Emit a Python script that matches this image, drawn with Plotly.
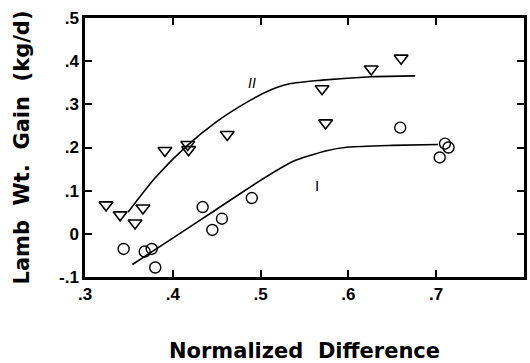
import plotly.graph_objects as go

# Data
tri_x = [0.324, 0.340, 0.357, 0.366, 0.391, 0.417, 0.418, 0.462, 0.570, 0.574, 0.626, 0.660]
tri_y = [0.067, 0.044, 0.025, 0.060, 0.193, 0.207, 0.195, 0.230, 0.336, 0.257, 0.382, 0.407]

circ_x = [0.344, 0.368, 0.376, 0.380, 0.434, 0.445, 0.456, 0.490, 0.659, 0.704, 0.710, 0.714]
circ_y = [-0.035, -0.041, -0.035, -0.078, 0.062, 0.009, 0.035, 0.083, 0.246, 0.177, 0.209, 0.200]

curve2_x = [0.349, 0.380, 0.415, 0.450, 0.487, 0.510, 0.532, 0.570, 0.626, 0.676]
curve2_y = [0.050, 0.130, 0.202, 0.260, 0.308, 0.332, 0.347, 0.356, 0.364, 0.366]

curve1_x = [0.354, 0.400, 0.450, 0.500, 0.536, 0.574, 0.600, 0.650, 0.702]
curve1_y = [-0.071, -0.010, 0.057, 0.124, 0.167, 0.192, 0.201, 0.205, 0.207]

x_ticks = [0.3, 0.4, 0.5, 0.6, 0.7, 0.8]
x_ticktext = [".3", ".4", ".5", ".6", ".7", ".8"]
y_ticks = [-0.1, 0.0, 0.1, 0.2, 0.3, 0.4, 0.5]
y_ticktext = ["-.1", "0", ".1", ".2", ".3", ".4", ".5"]

FONT = "Liberation Sans"
TFONT = "DejaVu Sans"

fig = go.Figure()
fig.add_trace(go.Scatter(x=curve2_x, y=curve2_y, mode="lines",
                         line=dict(color="black", width=1.6, shape="spline", smoothing=0.8),
                         showlegend=False, hoverinfo="skip"))
fig.add_trace(go.Scatter(x=curve1_x, y=curve1_y, mode="lines",
                         line=dict(color="black", width=1.6, shape="spline", smoothing=0.6),
                         showlegend=False, hoverinfo="skip"))
fig.add_trace(go.Scatter(x=tri_x, y=tri_y, mode="markers",
                         marker=dict(symbol="triangle-down-open", size=12, color="black",
                                     line=dict(width=1.6, color="black")),
                         showlegend=False))
fig.add_trace(go.Scatter(x=circ_x, y=circ_y, mode="markers",
                         marker=dict(symbol="circle-open", size=11, color="black",
                                     line=dict(width=1.4, color="black")),
                         showlegend=False))

fig.add_annotation(x=0.49, y=0.349, text="<i>II</i>", showarrow=False,
                   font=dict(family=FONT, size=14, color="black"))
fig.add_annotation(x=0.564, y=0.113, text="I", showarrow=False,
                   font=dict(family=FONT, size=15, color="black"))

axis_common = dict(showline=True, linecolor="black", linewidth=2.5, mirror="ticks",
                   ticks="inside", ticklen=7, tickwidth=1.5, tickcolor="black",
                   showgrid=False, zeroline=False,
                   tickfont=dict(family=FONT, size=17, color="black", weight="bold"))

fig.update_xaxes(range=[0.3, 0.8], tickvals=x_ticks, ticktext=x_ticktext,
                 title=dict(text="Normalized  Difference", standoff=41,
                            font=dict(family=TFONT, size=21, color="black", weight="bold")),
                 **axis_common)
fig.update_yaxes(range=[-0.1, 0.5], tickvals=y_ticks, ticktext=y_ticktext,
                 title=dict(text="Lamb  Wt.  Gain  (kg/d)", standoff=24,
                            font=dict(family=TFONT, size=21, color="black", weight="bold")),
                 **axis_common)

fig.update_layout(width=530, height=363, margin=dict(l=85, r=3, t=18, b=84),
                  plot_bgcolor="white", paper_bgcolor="white")

fig.write_html("out.html")
